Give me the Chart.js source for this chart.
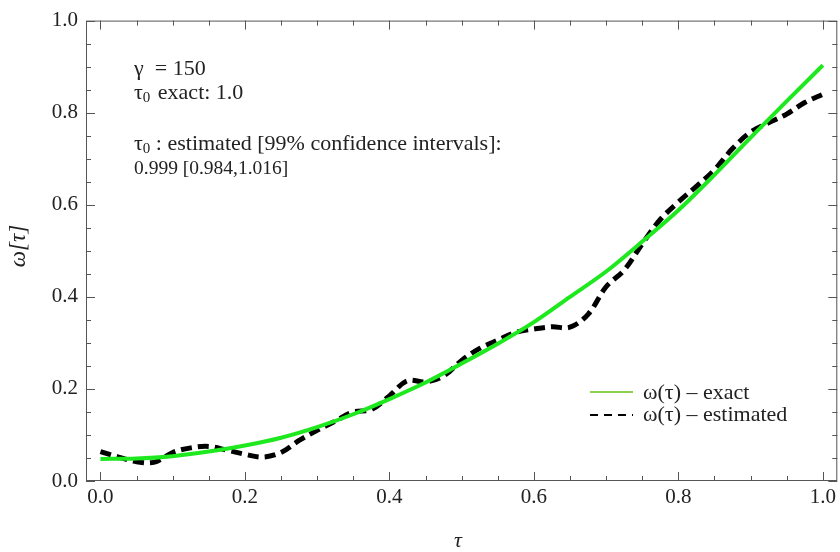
<!DOCTYPE html>
<html>
<head>
<meta charset="utf-8">
<script src="https://cdn.jsdelivr.net/npm/chart.js@4.4.0/dist/chart.umd.min.js"></script>
<style>
  body { margin: 0; background: #fff; }
  #wrap { width: 840px; height: 552px; }
</style>
</head>
<body>
<div id="wrap"><canvas id="c" width="840" height="552"></canvas></div>
<script>
// courbe exacte (trait vert)
const tauExact = [0, 0.05, 0.1, 0.15, 0.2, 0.25, 0.3, 0.35, 0.4, 0.45, 0.5,
                  0.55, 0.6, 0.65, 0.7, 0.75, 0.8, 0.85, 0.9, 0.95, 1.0];
const omegaExact = [0.048, 0.049, 0.054, 0.064, 0.077, 0.094, 0.117, 0.145, 0.178, 0.214, 0.255,
                    0.298, 0.345, 0.400, 0.455, 0.520, 0.588, 0.665, 0.746, 0.825, 0.903];

// courbe estimee (pointilles noirs)
const tauEst = [0, 0.025, 0.05, 0.075, 0.1, 0.125, 0.15, 0.175, 0.2, 0.225, 0.25,
                0.275, 0.3, 0.325, 0.35, 0.375, 0.4, 0.425, 0.45, 0.475, 0.5,
                0.525, 0.55, 0.575, 0.6, 0.625, 0.65, 0.675, 0.7, 0.725, 0.75,
                0.775, 0.8, 0.825, 0.85, 0.875, 0.9, 0.925, 0.95, 0.975, 1.0];
const omegaEst = [0.064, 0.052, 0.042, 0.041, 0.062, 0.072, 0.075, 0.067, 0.058, 0.052, 0.062,
                  0.088, 0.110, 0.130, 0.150, 0.155, 0.185, 0.218, 0.215, 0.228, 0.262,
                  0.288, 0.306, 0.323, 0.330, 0.335, 0.334, 0.362, 0.422, 0.458, 0.515,
                  0.568, 0.606, 0.640, 0.676, 0.722, 0.758, 0.778, 0.797, 0.822, 0.840];

const tickValues = [0, 0.2, 0.4, 0.6, 0.8, 1.0];
const legendLabels = ['ω(τ) – exact', 'ω(τ) – estimated'];

const serif = '"Liberation Serif", "DejaVu Serif", serif';

// cadre + graduations vers l'interieur (style Mathematica)
const framePlugin = {
    id: 'frame',
    afterDraw(chart) {
        const ctx = chart.ctx;
        const a = chart.chartArea;
        const xs = chart.scales.x, ys = chart.scales.y;
        ctx.save();
        ctx.strokeStyle = '#555';
        ctx.lineWidth = 1;
        ctx.strokeRect(a.left + 0.5, a.top + 0.5, a.right - a.left - 1, a.bottom - a.top - 1);
        for (let i = 0; i <= 20; i++) {
            const v = i * 0.05;
            const len = (i % 4 === 0) ? 9 : 5;
            const px = Math.round(xs.getPixelForValue(v)) + 0.5;
            const py = Math.round(ys.getPixelForValue(v)) + 0.5;
            ctx.beginPath();
            ctx.moveTo(px, a.bottom); ctx.lineTo(px, a.bottom - len);
            ctx.moveTo(px, a.top); ctx.lineTo(px, a.top + len);
            ctx.moveTo(a.left, py); ctx.lineTo(a.left + len, py);
            ctx.moveTo(a.right, py); ctx.lineTo(a.right - len, py);
            ctx.stroke();
        }
        ctx.restore();
    }
};

// tau avec indice 0
function tau0(ctx, x, y, size) {
    ctx.font = size + 'px ' + serif;
    ctx.fillText('τ', x, y);
    const w = ctx.measureText('τ').width;
    ctx.font = Math.round(size * 0.7) + 'px ' + serif;
    ctx.fillText('0', x + w, y + 3);
    return x + w + ctx.measureText('0').width;
}

// textes : titres d'axes, annotation, legende
const textPlugin = {
    id: 'texts',
    afterDraw(chart) {
        const ctx = chart.ctx;
        ctx.save();
        ctx.fillStyle = '#222';
        ctx.textBaseline = 'alphabetic';
        ctx.textAlign = 'left';

        // annotation
        const s = 22;
        ctx.font = s + 'px ' + serif;
        ctx.fillText('γ  = 150', 134, 75);
        let x = tau0(ctx, 134, 99, s);
        ctx.font = s + 'px ' + serif;
        ctx.fillText(' exact: 1.0', x + 2, 99);
        x = tau0(ctx, 134, 150, s);
        ctx.font = s + 'px ' + serif;
        ctx.fillText(' : estimated [99% confidence intervals]:', x, 150);
        ctx.font = '19.5px ' + serif;
        ctx.fillText('0.999 [0.984,1.016]', 134, 174);

        // legende
        ctx.lineWidth = 2;
        ctx.strokeStyle = '#8fd14f';
        ctx.beginPath(); ctx.moveTo(590, 392); ctx.lineTo(633, 392); ctx.stroke();
        ctx.strokeStyle = '#000';
        ctx.setLineDash([8, 6]);
        ctx.beginPath(); ctx.moveTo(590, 415); ctx.lineTo(633, 415); ctx.stroke();
        ctx.setLineDash([]);
        ctx.font = '22px ' + serif;
        ctx.fillText(legendLabels[0], 643, 399);
        ctx.fillText(legendLabels[1], 643, 421);

        // titres des axes
        ctx.font = 'italic 22px ' + serif;
        ctx.textAlign = 'center';
        ctx.textBaseline = 'middle';
        ctx.fillText('τ', 458, 541);
        ctx.font = 'italic 23px ' + serif;
        ctx.translate(19, 246);
        ctx.rotate(-Math.PI / 2);
        ctx.fillText('ω[τ]', 0, 0);
        ctx.restore();
    }
};

new Chart(document.getElementById('c'), {
    type: 'line',
    data: {
        datasets: [{
            label: legendLabels[0],
            data: tauExact.map((t, i) => ({ x: t, y: omegaExact[i] })),
            borderColor: '#1ee81e',
            borderWidth: 4,
            pointRadius: 0,
            cubicInterpolationMode: 'monotone'
        }, {
            label: legendLabels[1],
            data: tauEst.map((t, i) => ({ x: t, y: omegaEst[i] })),
            borderColor: '#000',
            borderWidth: 5,
            borderDash: [11, 6],
            pointRadius: 0,
            tension: 0.35
        }]
    },
    options: {
        responsive: false,
        animation: false,
        layout: { padding: { top: 17, right: 2, left: 0, bottom: 0 } },
        plugins: { legend: { display: false }, tooltip: { enabled: false } },
        scales: {
            x: {
                type: 'linear',
                min: -0.02, max: 1.02,
                grid: { display: false, drawTicks: false },
                border: { display: false },
                afterFit(s) { s.height = 71; },
                afterBuildTicks(s) { s.ticks = tickValues.map(v => ({ value: v })); },
                ticks: {
                    includeBounds: false,
                    padding: 4,
                    color: '#222',
                    font: { family: serif, size: 21 },
                    callback: v => v.toFixed(1)
                }
            },
            y: {
                type: 'linear',
                min: 0, max: 1.0,
                grid: { display: false, drawTicks: false },
                border: { display: false },
                afterFit(s) { s.width = 86; },
                afterBuildTicks(s) { s.ticks = tickValues.map(v => ({ value: v })); },
                ticks: {
                    includeBounds: false,
                    padding: 8,
                    color: '#222',
                    font: { family: serif, size: 21 },
                    callback: v => v.toFixed(1)
                }
            }
        }
    },
    plugins: [framePlugin, textPlugin]
});
</script>
</body>
</html>
